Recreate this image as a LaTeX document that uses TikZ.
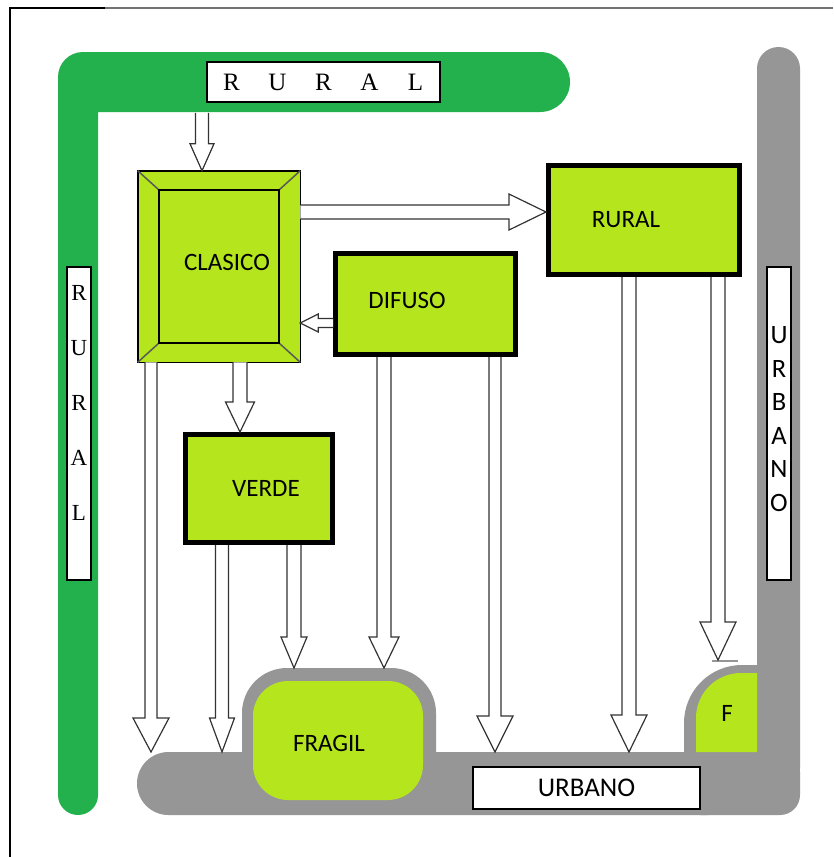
\documentclass[tikz,border=0pt]{standalone}
\usepackage{fontspec}
\setmainfont{Liberation Serif}
\newfontfamily\calib{Carlito}
\usetikzlibrary{calc}

\definecolor{beltgreen}{HTML}{22B14C}
\definecolor{lime}{HTML}{B5E61D}
\definecolor{road}{HTML}{969696}

% hollow block arrow pointing down: start, target (only its y is used),
% shaft half-width, head half-width, head length
\newcommand{\downblock}[5]{%
  \draw[blockarr] let \p1=#1, \p2=#2 in
    (\x1-#3,\y1) -- (\x1-#3,\y2+#5) -- (\x1-#4,\y2+#5) -- (\x1,\y2)
    -- (\x1+#4,\y2+#5) -- (\x1+#3,\y2+#5) -- (\x1+#3,\y1);}
% hollow block arrow running sideways: start, target (only its x is used)
\newcommand{\sideblock}[5]{%
  \draw[blockarr] let \p1=#1, \p2=#2, \n1={sign(\x2-\x1)} in
    (\x1,\y1+#3) -- (\x2-\n1*#5,\y1+#3) -- (\x2-\n1*#5,\y1+#4) -- (\x2,\y1)
    -- (\x2-\n1*#5,\y1-#4) -- (\x2-\n1*#5,\y1-#3) -- (\x1,\y1-#3);}

\tikzset{
  blockarr/.style={draw=black!80, line width=1.2pt, fill=white, line join=miter},
  thickbox/.style={draw=black, line width=5pt, fill=lime, inner sep=0pt,
    font=\calib\fontsize{25}{30}\selectfont},
  signbox/.style={draw=black, line width=1.5pt, fill=white, inner sep=0pt},
  boxtext/.style={font=\calib\fontsize{25}{30}\selectfont},
}

\begin{document}
\begin{tikzpicture}[x=1pt,y=-1pt]
\useasboundingbox (0,0) rectangle (833,857);
\fill[white] (0,0) rectangle (833,857);

% page frame
\draw[black!55, line width=2pt] (105,8) -- (833,8);
\draw[black, line width=1.5pt] (10,857) -- (10,8) -- (105,8);

% grey urban belt
\fill[road, rounded corners=31.5pt] (137,752) rectangle (740,815);
\fill[road, rounded corners=20pt] (680,752) rectangle (800,815);
\fill[road, rounded corners=21.5pt] (757,47) rectangle (800,790);
\fill[road, rounded corners=45pt] (242,668) rectangle (436,810);
\fill[road] (684,752) -- (684,723) arc[start angle=180, end angle=270, radius=58]
  -- (757,665) -- (757,752) -- cycle;
\draw[road, line width=1.5pt] (712,661) -- (738,661);
\coordinate (road) at (137,752);
\coordinate (bump) at (242,668);
\coordinate (ftop) at (684,660);

% fragile patches
\node[fill=lime, rounded corners=35pt, minimum width=170pt, minimum height=119pt,
  inner sep=0pt, label={[boxtext, xshift=-9pt, yshift=-2.5pt]center:FRAGIL}]
  (fragil) at (338,740.5) {};
\fill[lime] (696,752) -- (696,718) arc[start angle=180, end angle=270, radius=45]
  -- (757,673) -- (757,752) -- cycle;
\node[boxtext] (f) at (727,713) {F};

% green rural belt
\fill[beltgreen] (98,112) -- (540,112) arc[start angle=90, end angle=-90, radius=30]
  -- (83,52) arc[start angle=270, end angle=180, radius=25]
  -- (58,795) arc[start angle=180, end angle=0, radius=20]
  -- cycle;

% signs
\node[signbox, minimum width=233pt, minimum height=40pt,
  font=\fontsize{25}{30}\selectfont] (ruraltop) at (323.5,82)
  {\makebox[46pt]{R}\makebox[46pt]{U}\makebox[46pt]{R}\makebox[46pt]{A}\makebox[46pt]{L}};
\node[signbox, minimum width=24pt, minimum height=313pt,
  label={[yshift=20.5pt, align=center, font=\fontsize{23}{55}\selectfont]center:{R\\U\\R\\A\\L}}]
  (ruralleft) at (79,423.5) {};
\node[signbox, minimum width=24pt, minimum height=313pt,
  label={[yshift=4.5pt, align=center, font=\calib\fontsize{26.5}{33.6}\selectfont]center:{U\\R\\B\\A\\N\\O}}]
  (urbanoright) at (779,423.5) {};
\node[signbox, minimum width=227pt, minimum height=42pt,
  font=\calib\fontsize{27}{30}\selectfont] (urbanobot) at (586.5,788) {URBANO};

% classic core with bevelled frame
\node[draw=black, line width=1.5pt, fill=lime, inner sep=0pt, outer sep=0pt,
  minimum width=162.5pt, minimum height=191.5pt] (clasico) at (219,266.5) {};
\draw[black!65, line width=1.5pt]
  (clasico.north west) -- (159,190) (clasico.north east) -- (279,190)
  (clasico.south west) -- (159,343) (clasico.south east) -- (279,343);
\draw[black, line width=1.5pt] (159,190) rectangle (279,343);
\node[boxtext] at (227,262) {CLASICO};

% other growth types
\node[thickbox, minimum width=180pt, minimum height=101pt,
  label={[boxtext, xshift=-18.5pt, yshift=4pt]center:DIFUSO}] (difuso) at (425.5,304) {};
\node[thickbox, minimum width=191pt, minimum height=109pt,
  label={[boxtext, xshift=-18pt]center:RURAL}] (rural) at (644,220) {};
\node[thickbox, minimum width=147pt, minimum height=108pt,
  label={[boxtext, xshift=7pt]center:VERDE}] (verde) at (259,488.5) {};

% flows
\downblock{([xshift=-121.5pt, yshift=-10pt]ruraltop.south)}{(clasico.north)}{6.5pt}{12pt}{27pt}
\sideblock{([yshift=54.5pt]clasico.east)}{([yshift=10pt]rural.west)}{7pt}{18pt}{37pt}
\sideblock{([yshift=-19pt]difuso.west)}{(clasico.east)}{4.5pt}{9pt}{18pt}
\downblock{([xshift=21pt]clasico.south)}{(verde.north)}{7pt}{14.5pt}{30pt}
\downblock{([xshift=-68pt]clasico.south)}{(road)}{6pt}{18pt}{34pt}
\downblock{([xshift=-37pt]verde.south)}{(road)}{6.5pt}{12.5pt}{34pt}
\downblock{([xshift=35pt]verde.south)}{(bump)}{7pt}{13pt}{31pt}
\downblock{([xshift=-41.5pt]difuso.south)}{(bump)}{7pt}{15pt}{31pt}
\downblock{([xshift=69.5pt]difuso.south)}{(road)}{6pt}{18pt}{36pt}
\downblock{([xshift=-15pt]rural.south)}{(road)}{7pt}{18pt}{37pt}
\downblock{([xshift=74pt]rural.south)}{(ftop)}{7pt}{18pt}{38pt}
\end{tikzpicture}
\end{document}
